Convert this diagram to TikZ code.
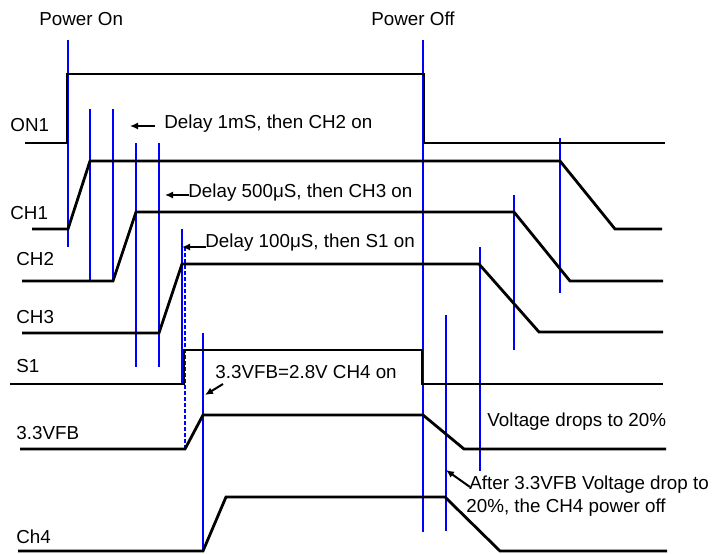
\documentclass[tikz,border=0pt]{standalone}
\usepackage{fontspec}
\setmainfont{Liberation Sans}
\usetikzlibrary{arrows.meta}
\definecolor{edgeblue}{HTML}{0000FF}
\definecolor{signal}{HTML}{000000}

\begin{document}
\begin{tikzpicture}[x=0.5pt,y=-0.5pt,
    wave/.style={signal,line width=1.4pt},
    tick/.style={edgeblue,line width=0.6pt},
    lbl/.style={font=\fontsize{9.4}{11}\selectfont,inner sep=0pt,anchor=west,text height=6.7pt,text depth=0pt},
    pointer/.style={signal,line width=1pt,-{Latex[length=4pt,width=3.6pt]}}]
  \useasboundingbox (0,0) rectangle (713,553);
  % timing markers
  \foreach \x/\ya/\yb in {68/40/247, 90/109/281, 113/109/281, 136/143/367, 159/143/367,
      182/229/385, 203/333/552, 423/40/532, 446/315/531, 480/247/471, 514/195/350, 560/138/293}
    \draw[tick] (\x,\ya) -- (\x,\yb);
  \draw[tick,dash pattern=on 2pt off 1pt] (185,247) -- (185,449);
  % signals
  \draw[wave] (25,143) -- (67,143) -- (67,74) -- (424,74) -- (424,143) -- (665,143);
  \draw[wave] (32,229) -- (68,229) -- (90,161) -- (560,161) -- (615,229) -- (662,229);
  \draw[wave] (22,281) -- (113,281) -- (136,212) -- (514,212) -- (570,281) -- (663,281);
  \draw[wave] (22,333) -- (159,333) -- (182,264) -- (479,264) -- (539,332) -- (663,332);
  \draw[wave] (10,384) -- (184,384) -- (184,350) -- (422,350) -- (422,384) -- (663,384);
  \draw[wave] (20,449) -- (185,449) -- (203,415) -- (423,415) -- (464,449) -- (666,449);
  \draw[wave] (18,551) -- (203,551) -- (226,497) -- (445,497) -- (500,551) -- (667,551);
  % signal names
  \node[lbl] (on1) at (10,125) {ON1};
  \node[lbl] (ch1) at (10,213) {CH1};
  \node[lbl] (ch2) at (16,259) {CH2};
  \node[lbl] (ch3) at (16,317) {CH3};
  \node[lbl] (s1) at (16,366) {S1};
  \node[lbl] (vfb) at (16,433) {3.3VFB};
  \node[lbl] (ch4) at (16,537) {Ch4};
  % events and notes
  \node[lbl] (pwron) at (39,19) {Power On};
  \node[lbl] (pwroff) at (371,19) {Power Off};
  \node[lbl] (dly1) at (164,121.5) {Delay 1mS, then CH2 on};
  \node[lbl] (dly2) at (188,190.5) {Delay 500μS, then CH3 on};
  \node[lbl] (dly3) at (205,241) {Delay 100μS, then S1 on};
  \node[lbl] (vfbon) at (215,371.5) {3.3VFB=2.8V CH4 on};
  \node[lbl] (drop) at (487,420) {Voltage drops to 20\%};
  \node[lbl] (after1) at (469,482.5) {After 3.3VFB Voltage drop to};
  \node[lbl] (after2) at (466,505.5) {20\%, the CH4 power off};
  % pointers
  \coordinate (tip1) at (130,126);
  \coordinate (tip2) at (165,195);
  \coordinate (tip3) at (182,247);
  \coordinate (tip4) at (205,395);
  \coordinate (tip5) at (446,470);
  \draw[pointer] (dly1.west) ++(-9,4.5) -- (tip1);
  \draw[pointer] (dly2.west) ++(1,4.5) -- (tip2);
  \draw[pointer] (dly3.west) ++(1,6) -- (tip3);
  \draw[pointer] (vfbon.west) ++(8,12.5) -- (tip4);
  \draw[pointer] (after1.west) ++(1,4.5) -- (tip5);
\end{tikzpicture}
\end{document}
